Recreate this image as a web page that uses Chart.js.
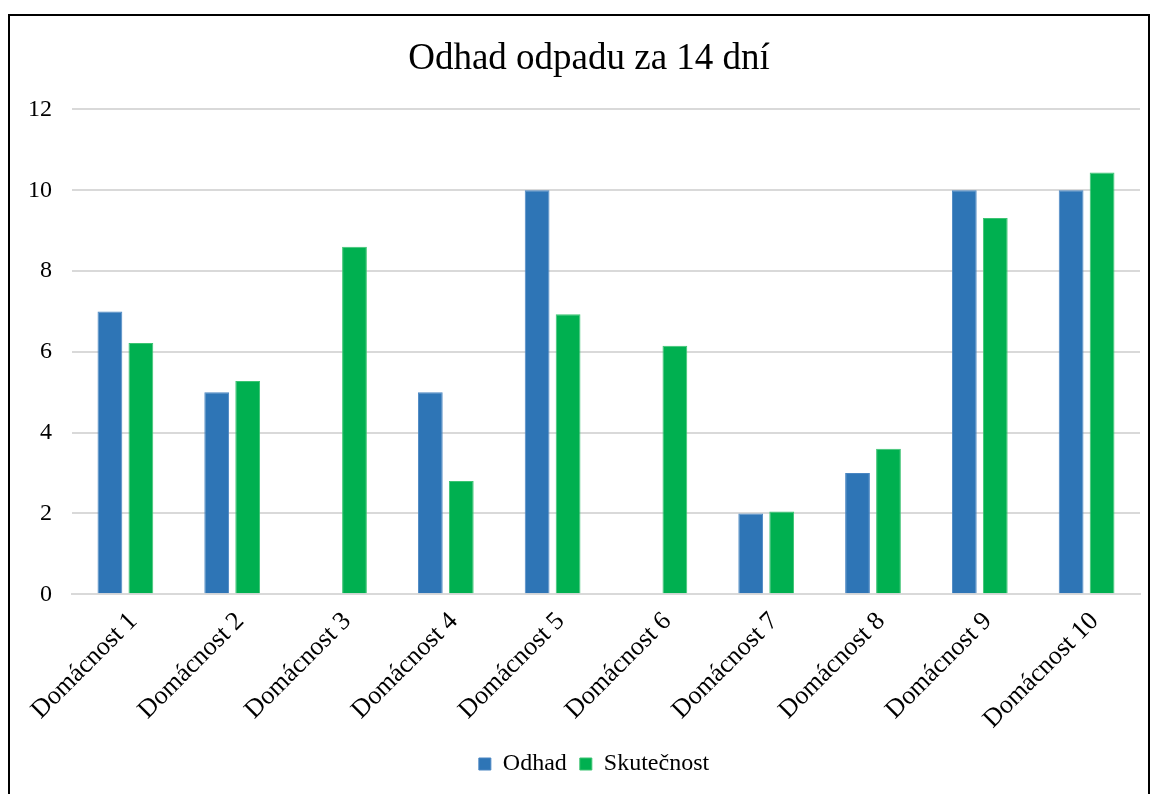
<!DOCTYPE html>
<html lang="cs">
<head>
<meta charset="UTF-8"/>
<script src="https://cdn.jsdelivr.net/npm/chart.js"></script>
<style>
    html, body { margin: 0; padding: 0; background: #fff; overflow: hidden; }
    .frame { position: absolute; left: 8px; top: 14px; width: 1138px; height: 800px; border: 2px solid #000; }
    .wrap { position: absolute; left: 0; top: 0; width: 1157px; height: 794px; }
</style>
</head>
<body>
<div class="frame"></div>
<div class="wrap"><canvas id="odpadChart"></canvas></div>
<script type="application/javascript">
    const labels = ['Domácnost 1', 'Domácnost 2', 'Domácnost 3', 'Domácnost 4', 'Domácnost 5',
        'Domácnost 6', 'Domácnost 7', 'Domácnost 8', 'Domácnost 9', 'Domácnost 10'];
    const odhad = [7, 5, null, 5, 10, null, 2, 3, 10, 10];
    const skutecnost = [6.22, 5.28, 8.6, 2.8, 6.93, 6.15, 2.05, 3.6, 9.31, 10.44];
    const yTicks = [0, 2, 4, 6, 8, 10, 12];

    const serif = 'Liberation Serif, Times New Roman, serif';
    Chart.defaults.font.family = serif;
    Chart.defaults.color = '#000';

    // title and legend in the original sit a bit right of the canvas centre
    const blockShift = {
        id: 'blockShift',
        afterLayout(chart) {
            chart.legend.left += 20;
            chart.legend.right += 20;
            chart.titleBlock.left += 15;
            chart.titleBlock.right += 15;
        }
    };

    const config = {
        type: 'bar',
        data: {
            labels,
            datasets: [
                {label: 'Odhad', data: odhad, backgroundColor: '#2E75B6', borderColor: '#4a86c2', borderWidth: 1,
                    categoryPercentage: 0.58, barPercentage: 0.8},
                {label: 'Skutečnost', data: skutecnost, backgroundColor: '#00B050', borderColor: '#3cc472', borderWidth: 1,
                    categoryPercentage: 0.58, barPercentage: 0.8}
            ]
        },
        options: {
            responsive: false,
            animation: false,
            layout: {padding: {top: 37, right: 17, bottom: 8, left: 8}},
            plugins: {
                title: {
                    display: true,
                    text: 'Odhad odpadu za 14 dní',
                    font: {size: 37, weight: 'normal'},
                    color: '#000',
                    padding: {top: 0, bottom: 28}
                },
                legend: {
                    position: 'bottom',
                    labels: {boxWidth: 12, boxHeight: 12, font: {size: 24}, padding: 13}
                },
                tooltip: {enabled: false}
            },
            scales: {
                x: {
                    grid: {display: false},
                    border: {color: '#d9d9d9', width: 2},
                    ticks: {font: {size: 26}, maxRotation: 45, minRotation: 45, color: '#000', padding: 4, labelOffset: 8}
                },
                y: {
                    min: 0, max: 12,
                    afterBuildTicks: axis => { axis.ticks = yTicks.map(v => ({value: v})); },
                    grid: {color: '#d9d9d9', lineWidth: 2, drawTicks: false},
                    border: {display: false},
                    ticks: {font: {size: 24}, color: '#000', padding: 20}
                }
            }
        },
        plugins: [blockShift]
    };
    const canvas = document.getElementById('odpadChart');
    canvas.width = 1157;
    canvas.height = 794;
    new Chart(canvas, config);
</script>
</body>
</html>
